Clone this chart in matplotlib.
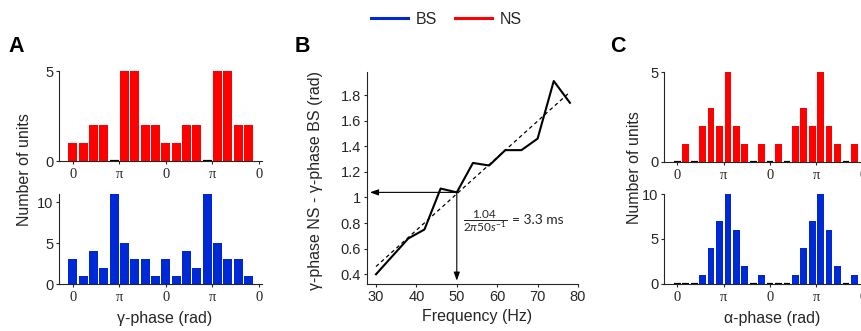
import numpy as np
import matplotlib.pyplot as plt
from matplotlib.lines import Line2D

# --- data ---
# A: gamma-phase histograms, 9 bins per cycle, shown over two cycles
gamma_ns = [1, 1, 2, 2, 0, 5, 5, 2, 2] * 2
gamma_bs = [3, 1, 4, 2, 11, 5, 3, 3, 1] * 2
# B: phase difference NS - BS vs frequency
freqs = [30, 34, 38, 42, 46, 50, 54, 58, 62, 66, 70, 74, 78]
phase_diff = [0.40, 0.54, 0.68, 0.75, 1.07, 1.04, 1.27, 1.25, 1.37, 1.37, 1.46, 1.91, 1.74]
ref_freq = 50
# C: alpha-phase histograms, 11 bins per cycle
alpha_ns = [0, 1, 0, 2, 3, 2, 5, 2, 1, 0, 1] * 2
alpha_bs = [0, 0, 0, 1, 4, 7, 10, 6, 2, 0, 1] * 2
phase_ticklabels = ['0', 'π', '0', 'π', '0']

RED = '#ff0000'
BLUE = '#0029d6'
INK = '#262626'

plt.rcParams['font.family'] = ['Liberation Sans', 'DejaVu Sans']
plt.rcParams['mathtext.fontset'] = 'custom'
plt.rcParams['mathtext.rm'] = 'Lato'
plt.rcParams['mathtext.it'] = 'Lato:italic'
plt.rcParams['axes.edgecolor'] = INK
plt.rcParams['xtick.color'] = INK
plt.rcParams['ytick.color'] = INK
plt.rcParams['text.color'] = INK

W, H = 862, 331
fig = plt.figure(figsize=(W / 100, H / 100), dpi=100)


def px_axes(left, top, right, bottom):
    return fig.add_axes([left / W, 1 - bottom / H, (right - left) / W, (bottom - top) / H])


def style(ax):
    ax.spines['top'].set_visible(False)
    ax.spines['right'].set_visible(False)
    ax.tick_params(length=2, width=0.8, labelsize=10.5, pad=2)


def hist_panel(ax, counts, color, width, nbins, xlim, ylim, yticks):
    x = np.arange(len(counts))
    c = np.array(counts)
    ax.bar(x, c, width=width, color=color, linewidth=0)
    z = x[c == 0]
    ax.hlines(np.zeros(len(z)), z - width / 2, z + width / 2, color='k', lw=1.6, zorder=3)
    ax.set_xlim(*xlim)
    ax.set_ylim(*ylim)
    ax.set_yticks(yticks)
    ax.set_xticks(np.arange(5) * nbins / 2)
    ax.set_xticklabels(phase_ticklabels, family='Liberation Serif', fontsize=11)
    style(ax)
    ax.tick_params(axis='x', pad=3)


# Panel A
axA1 = px_axes(59, 71, 262, 161)
hist_panel(axA1, gamma_ns, RED, 0.87, 9, (-1.33, 18.3), (0, 5), [0, 5])
axA2 = px_axes(59, 194, 262, 284)
hist_panel(axA2, gamma_bs, BLUE, 0.87, 9, (-1.33, 18.3), (0, 11), [0, 5, 10])

# Panel C (runs off the right edge like the original)
axC1 = px_axes(664, 72, 867, 161.7)
hist_panel(axC1, alpha_ns, RED, 0.8, 11, (-1.58, 22.5), (0, 5), [0, 5])
axC2 = px_axes(664, 194.3, 867, 283.7)
hist_panel(axC2, alpha_bs, BLUE, 0.8, 11, (-1.58, 22.5), (0, 10), [0, 5, 10])

# Panel B
axB = px_axes(366.7, 71.7, 578, 284)
axB.plot(freqs, phase_diff, color='k', lw=1.5)
slope, icpt = np.polyfit(freqs, phase_diff, 1)
fx = np.array([freqs[0], freqs[-1]])
axB.plot(fx, icpt + slope * fx, color='k', lw=0.9, ls=(0, (3, 2.5)))
axB.set_xlim(27.7, 80)
axB.set_ylim(0.324, 1.983)
axB.set_xticks([30, 40, 50, 60, 70, 80])
axB.set_yticks([0.4, 0.6, 0.8, 1.0, 1.2, 1.4, 1.6, 1.8])
axB.set_yticklabels(['0.4', '0.6', '0.8', '1', '1.2', '1.4', '1.6', '1.8'])
style(axB)

y_ref = phase_diff[freqs.index(ref_freq)]
arrow = dict(arrowstyle='-|>,head_length=0.5,head_width=0.18', color='k', lw=0.8,
             shrinkA=0, shrinkB=0)
axB.annotate('', xy=(28.5, y_ref), xytext=(ref_freq, y_ref), arrowprops=arrow)
axB.annotate('', xy=(ref_freq, 0.35), xytext=(ref_freq, y_ref), arrowprops=arrow)
fig.text(463 / W, 1 - 221 / H, r'$\dfrac{1.04}{2\mathit{\pi}50\mathit{s}^{-1}}$',
         fontsize=8.5, va='center', ha='left')
fig.text(512 / W, 1 - 220.5 / H, '= 3.3 ms', fontsize=10, family='Lato',
         va='center', ha='left')

# labels
fig.text(25 / W, 1 - 170 / H, 'Number of units', rotation=90, ha='center', va='center', fontsize=11.5)
fig.text(635 / W, 1 - 168 / H, 'Number of units', rotation=90, ha='center', va='center', fontsize=11.5)
fig.text(316 / W, 1 - 181 / H, 'γ-phase NS - γ-phase BS (rad)', rotation=90,
         ha='center', va='center', fontsize=11.5)
fig.text(165 / W, 1 - 318 / H, 'γ-phase (rad)', ha='center', va='center', fontsize=11.5)
fig.text(772 / W, 1 - 318 / H, 'α-phase (rad)', ha='center', va='center', fontsize=11.5)
fig.text(477 / W, 1 - 317 / H, 'Frequency (Hz)', ha='center', va='center', fontsize=11.5)

for lab, xp in [('A', 16.5), ('B', 302), ('C', 618)]:
    fig.text(xp / W, 1 - 47 / H, lab, ha='center', va='center', fontsize=15.5,
             fontweight='bold', color='k')

handles = [Line2D([], [], color=BLUE, lw=2.2), Line2D([], [], color=RED, lw=2.2)]
fig.legend(handles, ['BS', 'NS'], loc='center', bbox_to_anchor=(446.5 / W, 1 - 19 / H),
           ncol=2, frameon=False, fontsize=11.5, handlelength=2.3, handletextpad=0.5,
           columnspacing=1.1, borderpad=0)

fig.savefig('out.png', dpi=100)
